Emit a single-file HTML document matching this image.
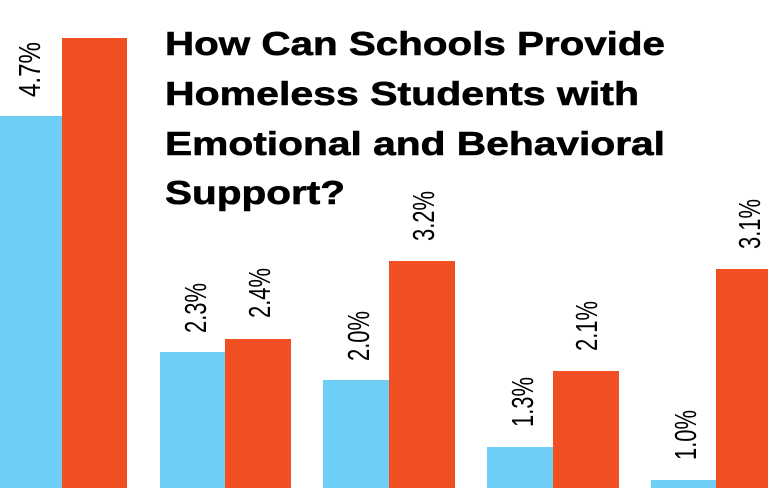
<!DOCTYPE html>
<html><head><style>html,body{margin:0;padding:0;background:#fff;}svg{display:block}</style></head>
<body>
<svg width="768" height="488" viewBox="0 0 768 488" xmlns="http://www.w3.org/2000/svg">
<g fill="#6DCFF6">
<rect x="0" y="116" width="62" height="372"/>
<rect x="160" y="352" width="65" height="136"/>
<rect x="323" y="380" width="66" height="108"/>
<rect x="487" y="447" width="66" height="41"/>
<rect x="651" y="480" width="65" height="8"/>
</g>
<g fill="#F04E23">
<rect x="62" y="38" width="65" height="450"/>
<rect x="225" y="339" width="66" height="149"/>
<rect x="389" y="261" width="66" height="227"/>
<rect x="553" y="371" width="66" height="117"/>
<rect x="716" y="269" width="52" height="219"/>
</g>
<g font-family="Liberation Sans, sans-serif" font-size="31" fill="#000">
<text transform="translate(40,97) rotate(-90)" textLength="55" lengthAdjust="spacingAndGlyphs">4.7%</text>
<text transform="translate(206,333) rotate(-90)" textLength="50" lengthAdjust="spacingAndGlyphs">2.3%</text>
<text transform="translate(270,318) rotate(-90)" textLength="50" lengthAdjust="spacingAndGlyphs">2.4%</text>
<text transform="translate(369,361) rotate(-90)" textLength="50" lengthAdjust="spacingAndGlyphs">2.0%</text>
<text transform="translate(434,241) rotate(-90)" textLength="50" lengthAdjust="spacingAndGlyphs">3.2%</text>
<text transform="translate(533,427) rotate(-90)" textLength="50" lengthAdjust="spacingAndGlyphs">1.3%</text>
<text transform="translate(597,351) rotate(-90)" textLength="50" lengthAdjust="spacingAndGlyphs">2.1%</text>
<text transform="translate(696,460) rotate(-90)" textLength="50" lengthAdjust="spacingAndGlyphs">1.0%</text>
<text transform="translate(760,249) rotate(-90)" textLength="50" lengthAdjust="spacingAndGlyphs">3.1%</text>
</g>
<g font-family="Liberation Sans, sans-serif" font-weight="bold" font-size="33" fill="#000" stroke="#000" stroke-width="0.6">
<text x="165" y="55" textLength="500" lengthAdjust="spacingAndGlyphs">How Can Schools Provide</text>
<text x="165" y="105" textLength="474" lengthAdjust="spacingAndGlyphs">Homeless Students with</text>
<text x="165" y="155" textLength="500" lengthAdjust="spacingAndGlyphs">Emotional and Behavioral</text>
<text x="165" y="204" textLength="180" lengthAdjust="spacingAndGlyphs">Support?</text>
</g>
</svg>
</body></html>
